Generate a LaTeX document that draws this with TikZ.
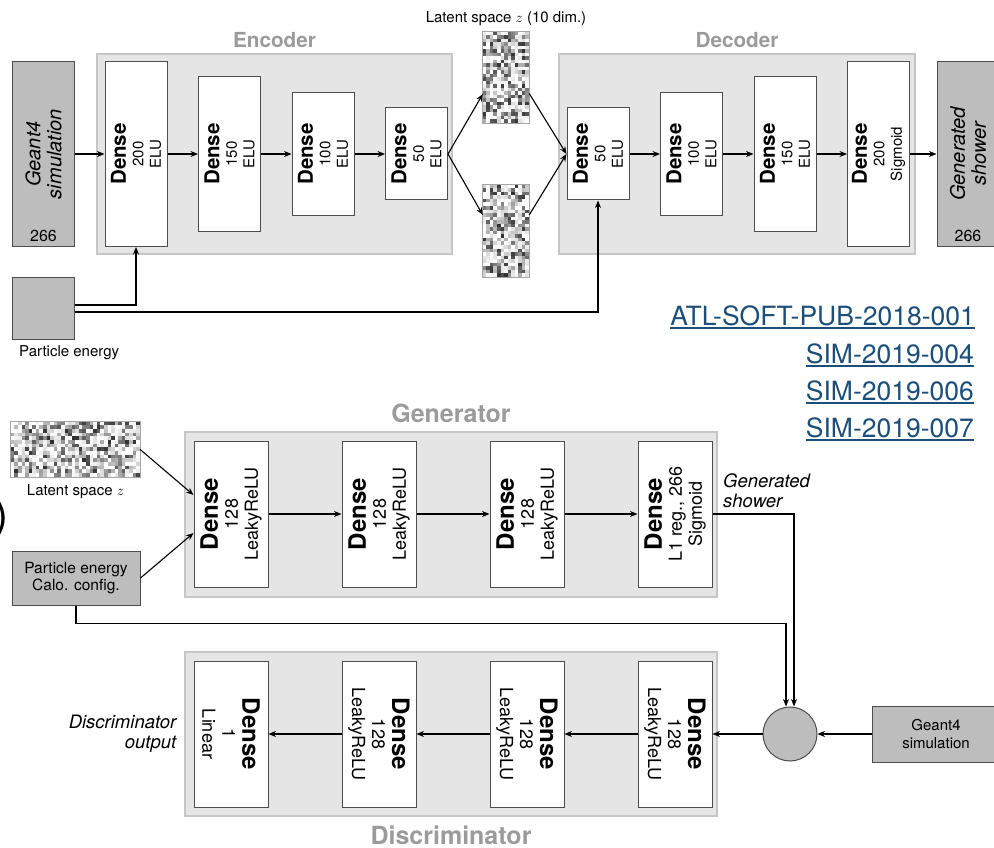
\documentclass[tikz,border=0pt]{standalone}
\usepackage{fontspec}
\setmainfont{TeX Gyre Heros}
\usetikzlibrary{positioning,arrows.meta}

\definecolor{boxgray}{HTML}{BDBDBD}
\definecolor{boxline}{HTML}{4D4D4D}
\definecolor{panelgray}{HTML}{E5E5E5}
\definecolor{panelline}{HTML}{C6C6C6}
\definecolor{titlegray}{HTML}{9B9B9B}
\definecolor{linkblue}{HTML}{1C4E7A}

\newcommand{\topdense}{{\bfseries\fontsize{20.5}{20}\selectfont Dense}}
\newcommand{\botdense}{{\bfseries\fontsize{24}{24}\selectfont Dense}}

% random grey pixels inside a named node
\newcommand{\noisepix}[5]{%
  \begin{scope}[shift={(#1.north west)}]
    \foreach \i in {1,...,#2}{
      \foreach \j in {1,...,#3}{
        \pgfmathsetmacro{\pixlvl}{int(82*rnd^2.2)}
        \fill[black!\pixlvl] ({(\i-1)*#4},{(\j-1)*#5}) rectangle ++({#4+0.3},{#5+0.3});
      }}
  \end{scope}}

\begin{document}
\begin{tikzpicture}[x=1pt, y=-1pt, >={Stealth[length=7.5pt,width=6pt,inset=2.5pt]},
  font=\fontsize{15}{17.5}\selectfont,
  panel/.style={draw=panelline, fill=panelgray, line width=1.2pt},
  dense/.style={draw=boxline, fill=white, line width=1pt},
  gbox/.style={draw=boxline, fill=boxgray, line width=1pt},
  lbl/.style={inner sep=0pt, align=center},
  topl/.style={lbl, rotate=90},
  botl/.style={lbl, rotate=90, font=\fontsize{18}{20}\selectfont},
  disl/.style={lbl, rotate=-90, font=\fontsize{18}{20}\selectfont},
  title/.style={inner sep=0pt, text=titlegray, font=\bfseries\fontsize{20.7}{21}\selectfont},
  bigtitle/.style={title, font=\bfseries\fontsize{25}{25}\selectfont},
  pixframe/.style={draw=gray!70, line width=0.8pt},
  arr/.style={->, line width=1.1pt},
  link/.style={inner sep=0pt, anchor=base east, text=linkblue,
    font=\fontsize{26.5}{27}\selectfont,
    append after command={([yshift=-3pt]\tikzlastnode.base west) edge[draw=linkblue, line width=2pt]
      ([yshift=-3pt]\tikzlastnode.base east)}}]

\useasboundingbox (0,0) rectangle (994,848);
\pgfmathsetseed{12}

% autoencoder
\node[panel, minimum width=355, minimum height=200] (encp) at (274.5,154) {};
\node[panel, minimum width=356, minimum height=200] (decp) at (737,154) {};
\node[title, above=6pt of encp] (enct) {Encoder};
\node[title, above=6pt of decp] (dect) {Decoder};

\node[gbox, minimum width=62, minimum height=185] (sim) at (43.5,154) {};
\node[lbl, rotate=90, font=\itshape\fontsize{20}{21}\selectfont] (simt) at (sim) {Geant4\\simulation};
\node[lbl, font=\fontsize{16}{16}\selectfont, above=5pt of sim.south] (simn) {266};

\node[dense, minimum width=62, minimum height=185] (e1) at (136,154) {};
\node[dense, minimum width=62, minimum height=154, right=30.5pt of e1] (e2) {};
\node[dense, minimum width=62, minimum height=123, right=30.5pt of e2] (e3) {};
\node[dense, minimum width=62, minimum height=92, right=30.5pt of e3] (e4) {};
\node[topl] (e1t) at (e1) {\topdense\\200\\ELU};
\node[topl] (e2t) at (e2) {\topdense\\150\\ELU};
\node[topl] (e3t) at (e3) {\topdense\\100\\ELU};
\node[topl] (e4t) at (e4) {\topdense\\50\\ELU};

\node[inner sep=0pt, minimum width=46, minimum height=91] (zA) at (506,77.5) {};
\node[inner sep=0pt, minimum width=46, minimum height=92] (zB) at (506,231) {};
\noisepix{zA}{13}{26}{3.54}{3.5}
\noisepix{zB}{13}{26}{3.54}{3.54}
\draw[pixframe] (zA.south west) rectangle (zA.north east);
\draw[pixframe] (zB.south west) rectangle (zB.north east);
\node[lbl, above=6pt of zA] (zAl) {Latent space $z$ (10 dim.)};

\node[dense, minimum width=62, minimum height=92] (d1) at (598,154) {};
\node[dense, minimum width=62, minimum height=123, right=30.5pt of d1] (d2) {};
\node[dense, minimum width=62, minimum height=154, right=30.5pt of d2] (d3) {};
\node[dense, minimum width=62, minimum height=185, right=30.5pt of d3] (d4) {};
\node[topl] (d1t) at (d1) {\topdense\\50\\ELU};
\node[topl] (d2t) at (d2) {\topdense\\100\\ELU};
\node[topl] (d3t) at (d3) {\topdense\\150\\ELU};
\node[topl] (d4t) at (d4) {\topdense\\200\\Sigmoid};

\node[gbox, minimum width=62, minimum height=185] (gen) at (968,154) {};
\node[lbl, rotate=90, font=\itshape\fontsize{20}{21}\selectfont] (gent) at (gen) {Generated\\shower};
\node[lbl, font=\fontsize{16}{16}\selectfont, above=5pt of gen.south] (genn) {266};

\node[gbox, minimum width=62, minimum height=62] (pe) at (43.5,308) {};
\node[lbl, anchor=north west] (pel) at (19,345) {Particle energy};

\draw[arr] (sim) -- (e1);
\draw[arr] (e1) -- (e2);
\draw[arr] (e2) -- (e3);
\draw[arr] (e3) -- (e4);
\draw[arr] (e4.east) -- ([yshift=-16.5pt]zA.west);
\draw[arr] (e4.east) -- ([yshift=16pt]zB.west);
\draw[arr] ([yshift=-16pt]zA.east) -- (d1.west);
\draw[arr] ([yshift=16pt]zB.east) -- (d1.west);
\draw[arr] (d1) -- (d2);
\draw[arr] (d2) -- (d3);
\draw[arr] (d3) -- (d4);
\draw[arr] (d4) -- (gen);
\draw[arr] ([yshift=3pt]pe.east) -| (e1.south);
\draw[arr] ([yshift=-4pt]pe.east) -| (d1.south);

% references
\node[link] (ref1) at (975,325) {ATL-SOFT-PUB-2018-001};
\node[link] (ref2) at (974,363) {SIM-2019-004};
\node[link] (ref3) at (974,400) {SIM-2019-006};
\node[link] (ref4) at (974,437) {SIM-2019-007};

% GAN
\node[inner sep=0pt, font=\fontsize{42}{42}\selectfont, anchor=east] (paren) at (9,519) {)};

\node[panel, minimum width=532, minimum height=165] (genp) at (451,514.5) {};
\node[bigtitle, above=8pt of genp] (genpt) {Generator};
\node[panel, minimum width=532, minimum height=164] (disp) at (451,734) {};
\node[bigtitle, below=9pt of disp] (dispt) {Discriminator};

\node[dense, minimum width=74, minimum height=146] (g1) at (231,514) {};
\node[dense, minimum width=74, minimum height=146, right=73pt of g1] (g2) {};
\node[dense, minimum width=74, minimum height=146, right=73pt of g2] (g3) {};
\node[dense, minimum width=74, minimum height=146, right=73pt of g3] (g4) {};
\node[botl] (g1t) at (g1) {\botdense\\128\\LeakyReLU};
\node[botl] (g2t) at (g2) {\botdense\\128\\LeakyReLU};
\node[botl] (g3t) at (g3) {\botdense\\128\\LeakyReLU};
\node[botl] (g4t) at (g4) {\botdense\\L1 reg., 266\\Sigmoid};

\node[dense, minimum width=74, minimum height=146] (c1) at (231,734) {};
\node[dense, minimum width=74, minimum height=146, right=73pt of c1] (c2) {};
\node[dense, minimum width=74, minimum height=146, right=73pt of c2] (c3) {};
\node[dense, minimum width=74, minimum height=146, right=73pt of c3] (c4) {};
\node[disl] (c1t) at (c1) {\botdense\\1\\Linear};
\node[disl] (c2t) at (c2) {\botdense\\128\\LeakyReLU};
\node[disl] (c3t) at (c3) {\botdense\\128\\LeakyReLU};
\node[disl] (c4t) at (c4) {\botdense\\128\\LeakyReLU};

\node[inner sep=0pt, minimum width=129, minimum height=55] (zG) at (75.5,449.5) {};
\noisepix{zG}{36}{15}{3.583}{3.667}
\draw[pixframe] (zG.south west) rectangle (zG.north east);
\node[lbl, below=7pt of zG] (zGl) {Latent space $z$};

\node[gbox, minimum width=128, minimum height=54, align=center, inner sep=0pt, font=\fontsize{15.5}{17.5}\selectfont] (pc) at (76,578) {Particle energy\\Calo. config.};
\node[circle, draw=boxline, fill=boxgray, line width=1pt, minimum size=54] (mix) at (790,734) {};
\node[gbox, minimum width=128, minimum height=56, align=center, inner sep=0pt] (g4sim) at (936,734) {Geant4\\simulation};

\node[lbl, align=left, anchor=south west, font=\itshape\fontsize{18.5}{20}\selectfont] (gsl) at (723,508) {Generated\\shower};
\node[lbl, align=right, font=\itshape\fontsize{18.5}{20}\selectfont, left=17pt of c1] (dout) {Discriminator\\output};

\draw[arr] (zG.east) -- ([yshift=19pt]g1.west);
\draw[arr] (pc.east) -- ([yshift=-19pt]g1.west);
\draw[arr] (g1) -- (g2);
\draw[arr] (g2) -- (g3);
\draw[arr] (g3) -- (g4);
\draw[arr] (g4.east) -| ([xshift=4pt]mix.north);
\draw[arr] (pc.south) -- ++(0,18) -| ([xshift=-4pt]mix.north);
\draw[arr] (g4sim) -- (mix);
\draw[arr] (mix) -- (c4);
\draw[arr] (c4) -- (c3);
\draw[arr] (c3) -- (c2);
\draw[arr] (c2) -- (c1);
\end{tikzpicture}
\end{document}
